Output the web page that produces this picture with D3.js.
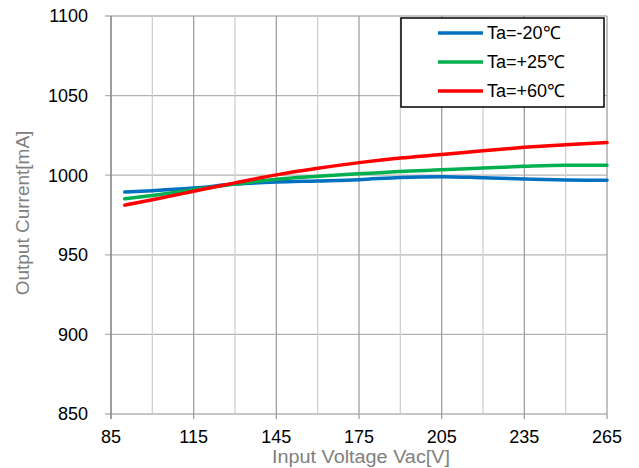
<!DOCTYPE html>
<html><head><meta charset="utf-8">
<script src="https://cdn.jsdelivr.net/npm/d3@7"></script>
<style>body{margin:0;background:#fff}svg{display:block}text{font-family:"Liberation Sans",Arial,sans-serif}</style>
</head><body><svg id="c" width="639" height="468"></svg>
<script>
const voltages = [90, 100, 115, 130, 145, 160, 175, 190, 205, 220, 235, 250, 265];
const seriesNames = ["Ta=-20\u2103", "Ta=+25\u2103", "Ta=+60\u2103"];
const seriesColors = ["#0070C0", "#00B050", "#FF0000"];
const currentM20 = [989.4, 990.3, 991.9, 994.4, 995.7, 996.4, 997.2, 998.6, 999.1, 998.4, 997.6, 997.0, 996.8];
const currentP25 = [985.2, 987.3, 990.8, 994.4, 997.5, 999.3, 1000.9, 1002.4, 1003.4, 1004.5, 1005.6, 1006.3, 1006.3];
const currentP60 = [981.2, 984.6, 989.9, 995.2, 1000.2, 1004.3, 1007.9, 1010.8, 1013.0, 1015.4, 1017.5, 1019.2, 1020.5];
const xTicks = [85, 115, 145, 175, 205, 235, 265];
const xMinor = [85, 100, 115, 130, 145, 160, 175, 190, 205, 220, 235, 250, 265];
const yTicks = [850, 900, 950, 1000, 1050, 1100];

const series = [currentM20, currentP25, currentP60];
const svg = d3.select("#c");
const x = d3.scaleLinear().domain([85, 265]).range([111, 607]);
const y = d3.scaleLinear().domain([850, 1100]).range([414, 16]);

// horizontal gridlines
svg.append("g").selectAll("line").data(yTicks).join("line")
  .attr("x1", 105).attr("x2", 607).attr("y1", d => y(d)).attr("y2", d => y(d))
  .attr("stroke", "#b3b3b3").attr("stroke-width", 1.3);
// vertical gridlines
svg.append("g").selectAll("line").data(xMinor).join("line")
  .attr("x1", d => x(d)).attr("x2", d => x(d)).attr("y1", 16).attr("y2", d => xTicks.includes(d) ? 419 : 414)
  .attr("stroke", d => xTicks.includes(d) ? "#a0a0a0" : "#d0d0d0").attr("stroke-width", 1.3);
// y axis line
svg.append("line").attr("x1", 111).attr("x2", 111).attr("y1", 16).attr("y2", 419)
  .attr("stroke", "#8c8c8c").attr("stroke-width", 1.3);

// tick labels
svg.append("g").selectAll("text").data(yTicks).join("text")
  .attr("x", 88).attr("y", d => y(d)).attr("dy", "0.36em").attr("text-anchor", "end")
  .attr("font-size", 18).attr("fill", "#000").text(d => d);
svg.append("g").selectAll("text").data(xTicks).join("text")
  .attr("x", d => x(d)).attr("y", 443).attr("text-anchor", "middle")
  .attr("font-size", 18).attr("fill", "#000").text(d => d);

// axis titles
svg.append("text").attr("x", 361).attr("y", 463).attr("text-anchor", "middle")
  .attr("font-size", 18).attr("textLength", 178).attr("lengthAdjust", "spacingAndGlyphs")
  .attr("fill", "#808080").text("Input Voltage Vac[V]");
svg.append("text").attr("transform", "translate(29,213) rotate(-90)").attr("text-anchor", "middle")
  .attr("font-size", 19).attr("fill", "#808080").text("Output Current[mA]");

// lines
const line = d3.line().x((d, i) => x(voltages[i])).y(d => y(d)).curve(d3.curveMonotoneX);
svg.append("g").selectAll("path").data(series).join("path")
  .attr("d", d => line(d)).attr("fill", "none")
  .attr("stroke", (d, i) => seriesColors[i]).attr("stroke-width", 3.5).attr("stroke-linecap", "round");

// legend
const lg = svg.append("g");
lg.append("rect").attr("x", 401).attr("y", 18).attr("width", 203).attr("height", 89)
  .attr("fill", "#fff").attr("stroke", "#000").attr("stroke-width", 1.5);
const items = lg.selectAll("g").data(seriesNames).join("g")
  .attr("transform", (d, i) => `translate(0,${33 + i * 29})`);
items.append("line").attr("x1", 438).attr("x2", 483).attr("y1", 0).attr("y2", 0)
  .attr("stroke", (d, i) => seriesColors[i]).attr("stroke-width", 3.5);
items.append("text").attr("x", 487).attr("y", 0).attr("dy", "0.36em")
  .attr("font-size", 18).attr("fill", "#000").text(d => d);
</script></body></html>
